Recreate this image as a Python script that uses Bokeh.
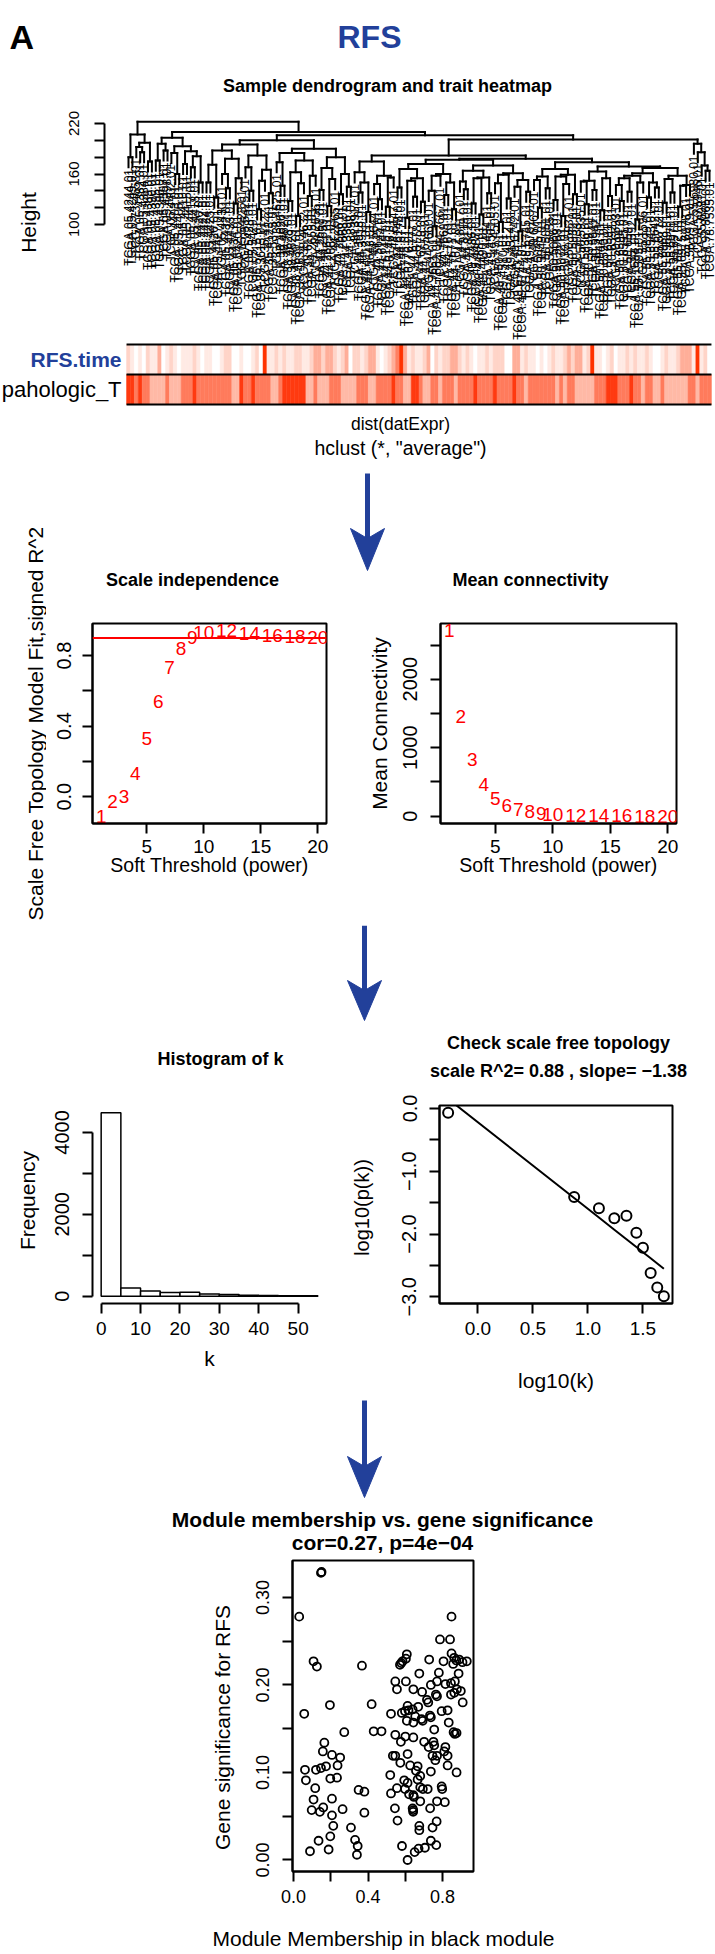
import math
from bokeh.plotting import figure
from bokeh.layouts import column, row
from bokeh.models import Range1d, FixedTicker, PrintfTickFormatter, Span
from bokeh.core.properties import value
from bokeh.embed import file_html
from bokeh.resources import INLINE

FONT = "Liberation Sans"
BLUE = "#22409a"
RED = "#ff0000"

# ---------------- data ----------------
sample_codes = """
05.4244 05.4249 73.4658 05.4382 05.4384 05.4389 05.4390 05.4395 05.4396 05.4397
05.4398 05.4402 05.4403 05.4405 05.4410 05.4415 05.4417 05.4418 05.4420 05.4422
05.4424 05.4425 05.4426 05.4427 05.4430 05.4432 05.4433 05.4434 05.5420 05.5423
05.5425 05.5428 05.5429 05.5715 35.3615 35.4122 35.4123 35.5375 38.4625 38.4626
38.4627 38.4628 38.4629 38.4630 38.4631 38.4632 38.6178 44.2655 44.2656 44.2657
44.2659 44.2661 44.2662 44.2665 44.2666 44.2668 44.3396 44.3398 44.3917 44.3918
44.3919 44.4112 44.5643 44.5644 44.5645 44.6144 44.6145 44.6146 44.6147 44.6148
44.6774 44.6775 44.6776 44.6777 44.6778 44.6779 44.7659 44.7660 44.7661 44.7662
44.7667 44.7669 44.7670 44.7671 44.7672 44.8117 44.8119 44.8120 49.4486 49.4487
49.4488 49.4490 49.4494 49.4501 49.4505 49.4507 49.4510 49.4512 49.4514 49.6742
49.6743 49.6744 49.6745 49.6761 49.6767 50.5045 50.5049 50.5051 50.5055 50.5066
50.5068 50.5072 50.5930 50.5931 50.5932 50.5933 50.5935 50.5936 50.5939 50.5941
50.5942 50.5944 50.6590 50.6591 50.6592 50.6593 50.6594 50.6595 50.6597 55.1592
55.1594 55.1595 55.1596 55.5899 55.6543 55.6642 55.6712 55.6968 55.6969 55.6970
55.6971 55.6972 55.6975 55.6978 55.6979 55.6980 50.5946 55.6981 92.8065 78.7535
""".split()
sample_ids = ["TCGA." + c + ".01" for c in sample_codes]

# height at which neighbouring leaves (i, i+1) join in the dendrogram
merge_heights = [
    180, 207, 192, 186, 197, 175,
    222,
    176, 196, 188, 203, 185, 160, 193, 172, 187, 168, 181, 150,
    210,
    150, 171, 132, 188, 160, 143, 178, 125, 155, 195,
    168, 140, 182, 118, 152, 165, 137, 200, 174, 146,
    185, 128, 162, 110, 149, 176, 134, 158, 190, 141,
    167, 122, 154, 180, 136, 160, 145,
    206,
    162, 138, 150, 115, 175, 148, 130, 158, 121, 156,
    182, 144, 166, 108, 152, 133, 155, 127, 172, 140,
    98, 158, 160, 135, 150, 118, 177, 151, 142, 164,
    125, 155, 112, 156, 137, 170, 149, 103, 159, 131,
    161, 145, 92, 153, 139, 178, 153, 120, 157, 143,
    166, 129, 157, 110, 148, 159, 136, 174, 151, 124,
    152, 141, 163, 117, 155, 134, 169, 147, 128, 155,
    139, 158, 106, 150, 161, 132, 150, 144, 167, 126,
    154, 138, 158, 121, 146, 147,
    201,
    196, 186, 170, 164,
]

rfs_time_level = [
    2, 1, 0, 1, 0, 2, 1, 1, 3, 0,
    1, 2, 1, 0, 1, 1, 1, 2, 1, 0,
    1, 1, 0, 0, 1, 2, 2, 0, 0, 1,
    0, 0, 1, 2, 0, 5, 1, 1, 2, 1,
    2, 1, 1, 2, 2, 1, 1, 2, 3, 3,
    2, 3, 3, 2, 1, 2, 3, 0, 2, 2,
    1, 2, 3, 3, 1, 0, 1, 2, 3, 4,
    5, 3, 1, 2, 1, 1, 2, 3, 0, 2,
    1, 2, 2, 3, 3, 2, 1, 2, 1, 0,
    1, 1, 2, 1, 2, 2, 2, 0, 0, 3,
    3, 1, 2, 1, 1, 0, 1, 0, 1, 2,
    1, 1, 2, 3, 2, 3, 3, 1, 2, 5,
    1, 1, 0, 1, 2, 0, 1, 1, 2, 1,
    2, 1, 1, 2, 1, 0, 0, 1, 2, 1,
    1, 2, 3, 3, 3, 1, 5, 1, 2, 0,
]
path_t_level = [
    3, 3, 2, 3, 2, 2, 1, 1, 1, 1,
    2, 1, 1, 1, 2, 2, 2, 3, 2, 2,
    2, 2, 2, 2, 2, 2, 2, 1, 1, 3,
    2, 2, 3, 2, 2, 2, 2, 1, 1, 2,
    3, 3, 3, 3, 3, 3, 1, 1, 2, 1,
    1, 1, 2, 2, 2, 1, 1, 1, 1, 2,
    2, 2, 1, 1, 2, 2, 2, 2, 3, 2,
    2, 1, 1, 3, 3, 2, 1, 1, 2, 2,
    1, 2, 2, 2, 1, 2, 2, 2, 2, 3,
    2, 2, 2, 2, 3, 2, 2, 2, 2, 3,
    2, 2, 1, 2, 2, 2, 2, 2, 2, 2,
    1, 2, 1, 2, 2, 1, 1, 1, 1, 1,
    2, 2, 2, 3, 3, 3, 2, 2, 2, 3,
    2, 2, 1, 2, 2, 1, 1, 2, 1, 1,
    1, 1, 1, 1, 2, 2, 1, 2, 2, 2,
]
rfs_palette = ["#ffffff", "#ffeae4", "#ffd4c8", "#ffae99", "#ff8062", "#ff3300"]
t_palette = ["#ffffff", "#ffb9a6", "#ff7b5c", "#ff3a10"]

powers = [1, 2, 3, 4, 5, 6, 7, 8, 9, 10, 12, 14, 16, 18, 20]
sft_signed_r2 = [-0.11, -0.03, 0.0, 0.13, 0.33, 0.54, 0.73, 0.84, 0.90, 0.93,
                 0.94, 0.925, 0.915, 0.91, 0.90]
mean_connectivity = [2706, 1456, 824, 456, 265, 162, 100, 62, 40, 26, 13, 7, 4, 2, 1]
r2_cutoff = 0.90

k_breaks = [0, 5, 10, 15, 20, 25, 30, 35, 40, 45, 50, 55]
k_counts = [4480, 200, 128, 88, 98, 55, 38, 22, 16, 12, 9]

log10_k = [-0.27, 0.875, 1.10, 1.24, 1.35, 1.44, 1.50, 1.57, 1.63, 1.69]
log10_pk = [-0.07, -1.41, -1.59, -1.75, -1.71, -1.98, -2.22, -2.62, -2.85, -2.99]
fit_intercept = -0.22
fit_slope = -1.38
fit_r2 = 0.88

mm_black = [
    0.147, 0.150, 0.030, 0.848, 0.786, 0.840, 0.107, 0.125, 0.367, 0.608,
    0.603, 0.585, 0.571, 0.578, 0.728, 0.805, 0.848, 0.862, 0.857, 0.889,
    0.907, 0.930, 0.874, 0.886, 0.780, 0.675, 0.546, 0.555, 0.603, 0.643,
    0.690, 0.737, 0.770, 0.815, 0.845, 0.866, 0.877, 0.898, 0.845, 0.863,
    0.764, 0.770, 0.716, 0.723, 0.908, 0.057, 0.195, 0.419, 0.523, 0.581,
    0.598, 0.612, 0.617, 0.639, 0.669, 0.653, 0.608, 0.643, 0.687, 0.693,
    0.732, 0.737, 0.795, 0.827, 0.833, 0.859, 0.866, 0.875, 0.755, 0.272,
    0.430, 0.472, 0.546, 0.600, 0.643, 0.576, 0.701, 0.725, 0.751, 0.755,
    0.815, 0.165, 0.157, 0.206, 0.250, 0.533, 0.546, 0.612, 0.746, 0.761,
    0.770, 0.809, 0.827, 0.573, 0.626, 0.666, 0.657, 0.827, 0.236, 0.061,
    0.120, 0.147, 0.174, 0.737, 0.875, 0.519, 0.680, 0.066, 0.197, 0.233,
    0.594, 0.612, 0.666, 0.116, 0.555, 0.598, 0.680, 0.694, 0.720, 0.795,
    0.798, 0.349, 0.380, 0.523, 0.620, 0.643, 0.646, 0.680, 0.770, 0.812,
    0.107, 0.206, 0.544, 0.639, 0.642, 0.642, 0.733, 0.097, 0.141, 0.159,
    0.263, 0.380, 0.206, 0.558, 0.768, 0.746, 0.213, 0.308, 0.675, 0.675,
    0.197, 0.330, 0.344, 0.134, 0.737, 0.582, 0.766, 0.088, 0.188, 0.340,
    0.671, 0.705, 0.650, 0.612,
]
gs_rfs = [
    0.328, 0.329, 0.278, 0.278, 0.252, 0.252, 0.227, 0.221, 0.222, 0.235,
    0.230, 0.227, 0.223, 0.225, 0.229, 0.227, 0.236, 0.231, 0.224, 0.229,
    0.226, 0.227, 0.228, 0.213, 0.214, 0.213, 0.204, 0.195, 0.204, 0.195,
    0.192, 0.200, 0.204, 0.201, 0.202, 0.204, 0.195, 0.193, 0.189, 0.191,
    0.189, 0.187, 0.183, 0.180, 0.180, 0.167, 0.177, 0.178, 0.167, 0.168,
    0.170, 0.176, 0.171, 0.172, 0.175, 0.164, 0.159, 0.157, 0.161, 0.159,
    0.165, 0.163, 0.170, 0.171, 0.157, 0.146, 0.144, 0.145, 0.149, 0.146,
    0.147, 0.147, 0.143, 0.141, 0.140, 0.135, 0.135, 0.129, 0.135, 0.131,
    0.129, 0.134, 0.124, 0.120, 0.117, 0.119, 0.119, 0.121, 0.119, 0.114,
    0.119, 0.124, 0.119, 0.111, 0.108, 0.107, 0.102, 0.108, 0.108, 0.103,
    0.103, 0.105, 0.107, 0.101, 0.100, 0.097, 0.096, 0.091, 0.093, 0.094,
    0.091, 0.088, 0.092, 0.082, 0.082, 0.081, 0.083, 0.081, 0.081, 0.084,
    0.081, 0.080, 0.078, 0.076, 0.075, 0.074, 0.072, 0.067, 0.067, 0.066,
    0.069, 0.070, 0.059, 0.059, 0.057, 0.055, 0.059, 0.057, 0.055, 0.060,
    0.058, 0.054, 0.051, 0.045, 0.044, 0.037, 0.039, 0.037, 0.039, 0.034,
    0.027, 0.023, 0.016, 0.022, 0.022, 0.016, 0.017, 0.010, 0.012, 0.006,
    0.013, 0.014, 0.009, 0.000,
]
mm_cor = "0.27"
mm_p = "4e\u221204"

# ---------------- helpers ----------------
def rlim(vals):
    lo, hi = min(vals), max(vals)
    pad = 0.04 * (hi - lo)
    return lo - pad, hi + pad


def base(width, height, xr, yr, left=0, right=0, top=0, bottom=0, axes=False, **extra):
    kw = dict(width=width, height=height, x_range=xr, y_range=yr,
              toolbar_location=None, output_backend="svg",
              min_border_left=left, min_border_right=right,
              min_border_top=top, min_border_bottom=bottom)
    if not axes:
        kw.update(x_axis_type=None, y_axis_type=None)
    kw.update(extra)
    p = figure(**kw)
    p.outline_line_color = None
    p.background_fill_color = "white"
    p.border_fill_color = "white"
    for g in p.grid:
        g.visible = False
    return p


def spacer(x0, x1, y_top, y_bot):
    return base(x1 - x0, y_bot - y_top, Range1d(x0, x1), Range1d(-y_bot, -y_top))


def put(p, x, y, s, size, bold=False, color="black", align="center",
        baseline="alphabetic", angle=0.0):
    p.text(x=[x], y=[-y], text=[s], text_font=value(FONT),
           text_font_size=f"{size}px", text_font_style="bold" if bold else "normal",
           text_color=color, text_align=align, text_baseline=baseline, angle=angle)


def ylabel_fig(x0, x1, y_top, y_bot, x, y, s, size=21):
    # wrapped in its own column so that its frame is not aligned with sibling plots
    p = spacer(x0, x1, y_top, y_bot)
    put(p, x, y, s, size, baseline="middle", angle=math.pi / 2)
    return column(p)


def arrow(p, x, y_top, y_wing, y_notch, y_tip, half=17, shaft=5):
    p.quad(left=[x - shaft / 2], right=[x + shaft / 2], top=[-y_top], bottom=[-(y_notch + 3)],
           fill_color=BLUE, line_color=None)
    p.patch(x=[x - half, x, x + half, x], y=[-y_wing, -y_notch, -y_wing, -y_tip],
            fill_color=BLUE, line_color=BLUE, line_width=1)


def style_axis(ax, ticks, minor=(), fmt=None, overrides=None, bounds=None, label=None,
               label_size=21, tick_size=20, standoff=13, label_standoff=6, vertical=False):
    ax.ticker = FixedTicker(ticks=list(ticks), minor_ticks=list(minor))
    if fmt:
        ax.formatter = PrintfTickFormatter(format=fmt)
    if overrides:
        ax.major_label_overrides = overrides
    if bounds:
        ax.bounds = bounds
    if label:
        ax.axis_label = label
    ax.axis_label_text_font = FONT
    ax.axis_label_text_font_size = f"{label_size}px"
    ax.axis_label_text_font_style = "normal"
    ax.axis_label_text_color = "black"
    ax.axis_label_standoff = label_standoff
    ax.major_label_text_font = FONT
    ax.major_label_text_font_size = f"{tick_size}px"
    ax.major_label_text_color = "black"
    ax.major_label_standoff = standoff
    ax.major_tick_in = 0
    ax.major_tick_out = 10
    ax.minor_tick_in = 0
    ax.minor_tick_out = 10
    ax.axis_line_width = 2
    ax.major_tick_line_width = 2
    ax.minor_tick_line_width = 2
    ax.axis_line_color = "black"
    ax.major_tick_line_color = "black"
    ax.minor_tick_line_color = "black"
    if vertical:
        ax.major_label_orientation = "parallel"


def panel(width, height, xr, yr, left, right, top, bottom, boxed=True):
    p = base(width, height, Range1d(*xr), Range1d(*yr), left, right, top, bottom, axes=True)
    if boxed:
        p.outline_line_color = "black"
        p.outline_line_width = 2
    return p


# ---------------- header ----------------
hdr = spacer(0, 715, 0, 105)
put(hdr, 9, 36, "A", 34, bold=True, align="left")
put(hdr, 369, 36, "RFS", 32, bold=True, color=BLUE)
put(hdr, 387, 85, "Sample dendrogram and trait heatmap", 18, bold=True)

# ---------------- dendrogram ----------------
N = len(sample_ids)
leaf_px = (709 - 128) / (N - 1)
hang = 12.0
segs = {"x0": [], "y0": [], "x1": [], "y1": []}
leaf_bottom = [0.0] * N


def seg(a, b, c, d):
    segs["x0"].append(a); segs["y0"].append(b); segs["x1"].append(c); segs["y1"].append(d)


def build(lo, hi):
    if lo == hi:
        return float(lo), None
    k = max(range(lo, hi), key=lambda j: merge_heights[j])
    h = merge_heights[k]
    xl, hl = build(lo, k)
    xr, hr = build(k + 1, hi)
    seg(xl, h, xr, h)
    for xc, hc, leaf in ((xl, hl, lo), (xr, hr, hi)):
        if hc is None:
            leaf_bottom[leaf] = h - hang
            seg(xc, h, xc, h - hang)
        else:
            seg(xc, h, xc, hc)
    return (xl + xr) / 2, h


build(0, N - 1)
x_end = (N - 1) + (715 - 709) / leaf_px

den = figure(width=655, height=236,
             x_range=Range1d(-(128 - 104) / leaf_px, x_end),
             y_range=Range1d(-39.0, 241.4), x_axis_type=None,
             toolbar_location=None, output_backend="svg",
             min_border_left=44, min_border_right=0, min_border_top=0, min_border_bottom=0)
den.outline_line_color = None
den.background_fill_color = "white"
den.border_fill_color = "white"
for g in den.grid:
    g.visible = False
den.segment(x0="x0", y0="y0", x1="x1", y1="y1", source=segs, line_color="black",
            line_width=2, line_cap="square")
den.text(x=list(range(N)), y=[b - 2 for b in leaf_bottom], text=sample_ids,
         text_font=value(FONT), text_font_size="12px", text_color="black",
         angle=math.pi / 2, text_align="right", text_baseline="middle")
style_axis(den.yaxis[0], [100, 160, 220], [120, 140, 180, 200], fmt="%d", bounds=(100, 220),
           tick_size=15, standoff=15, vertical=True)
den_band = row(ylabel_fig(0, 60, 105, 341, 28, 222, "Height"), den)

# ---------------- trait heatmap ----------------
heat = base(715, 69, Range1d(-128 / leaf_px, x_end), Range1d(-0.2, 2.1))
cols = list(range(N))
heat.quad(left=[i - 0.5 for i in cols], right=[i + 0.5 for i in cols], bottom=1, top=2,
          fill_color=[rfs_palette[v] for v in rfs_time_level],
          line_color=[rfs_palette[v] for v in rfs_time_level], line_width=0.5)
heat.quad(left=[i - 0.5 for i in cols], right=[i + 0.5 for i in cols], bottom=0, top=1,
          fill_color=[t_palette[v] for v in path_t_level],
          line_color=[t_palette[v] for v in path_t_level], line_width=0.5)
heat.segment(x0=[-0.5] * 3, x1=[N - 0.5] * 3, y0=[0, 1, 2], y1=[0, 1, 2],
             line_color="black", line_width=2)
lab_x = -0.5 - 5 / leaf_px
heat.text(x=[lab_x], y=[1.5], text=["RFS.time"], text_font=value(FONT), text_font_size="21px",
          text_font_style="bold", text_color=BLUE, text_align="right", text_baseline="middle")
heat.text(x=[lab_x], y=[0.5], text=["pahologic_T"], text_font=value(FONT), text_font_size="22px",
          text_color="black", text_align="right", text_baseline="middle")

# ---------------- band with soft-threshold panels ----------------
mid1 = spacer(46, 715, 410, 603)
put(mid1, 400, 423, "dist(datExpr)", 17.5)
put(mid1, 400, 447, "hclust (*, \"average\")", 19.5)
arrow(mid1, 367, 473, 528, 538, 570)
put(mid1, 192, 579, "Scale independence", 18, bold=True)
put(mid1, 530, 579, "Mean connectivity", 18, bold=True)

sft = panel(309, 302, rlim(powers), rlim(sft_signed_r2), 46, 29, 20, 82)
sft.add_layout(Span(location=r2_cutoff, dimension="width", line_color=RED, line_width=2))
sft.text(x=powers, y=sft_signed_r2, text=[str(v) for v in powers], text_font=value(FONT),
         text_font_size="19px", text_color=RED, text_align="center", text_baseline="middle")
style_axis(sft.yaxis[0], [0, 0.4, 0.8], [0.2, 0.6], fmt="%.1f", vertical=True, standoff=11)
style_axis(sft.xaxis[0], [5, 10, 15, 20], fmt="%d", label="Soft Threshold (power)",
           label_size=19.5, tick_size=19, standoff=6, label_standoff=-2)

mc = panel(322, 302, rlim(powers), rlim(mean_connectivity), 47, 39, 20, 82)
mc.text(x=powers, y=mean_connectivity, text=[str(v) for v in powers], text_font=value(FONT),
        text_font_size="19px", text_color=RED, text_align="center", text_baseline="middle")
style_axis(mc.yaxis[0], [0, 1000, 2000], [500, 1500, 2500], fmt="%d", vertical=True)
style_axis(mc.xaxis[0], [5, 10, 15, 20], fmt="%d", label="Soft Threshold (power)",
           label_size=19.5, tick_size=19, standoff=6, label_standoff=-2)

panels2 = row(sft, ylabel_fig(355, 393, 603, 905, 379, 723, "Mean Connectivity"), mc)
band2 = row(ylabel_fig(0, 46, 410, 925, 35, 723, "Scale Free Topology Model Fit,signed R^2"),
            column(row(mid1), panels2, row(spacer(46, 715, 905, 925))))

# ---------------- band with histogram / scale-free check ----------------
mid2 = spacer(0, 715, 925, 1090)
arrow(mid2, 364, 925, 980, 990, 1020)
put(mid2, 220, 1058, "Histogram of k", 18, bold=True)
put(mid2, 558, 1042, "Check scale free topology", 18, bold=True)
put(mid2, 558, 1070, f"scale R^2= {fit_r2:.2f} , slope= \u2212{abs(fit_slope):.2f}", 18,
    bold=True)

hist = panel(294, 308, rlim(k_breaks), rlim([0] + k_counts), 46, 14, 15, 95, boxed=False)
hist.quad(left=k_breaks[:-1], right=k_breaks[1:], bottom=0, top=k_counts,
          fill_color="white", line_color="black", line_width=1.5)
style_axis(hist.yaxis[0], [0, 2000, 4000], [1000, 3000], fmt="%d", bounds=(0, 4000),
           vertical=True)
style_axis(hist.xaxis[0], [0, 10, 20, 30, 40, 50], fmt="%d", bounds=(0, 50), label="k",
           tick_size=19, standoff=8, label_standoff=9)

chk = panel(333, 308, rlim(log10_k), rlim(log10_pk), 57, 43, 15, 95)
chk.line(x=log10_k, y=[fit_intercept + fit_slope * v for v in log10_k], line_color="black",
         line_width=2)
chk.scatter(x=log10_k, y=log10_pk, marker="circle", size=10, fill_color=None,
            line_color="black", line_width=2)
style_axis(chk.yaxis[0], [-3, -2, -1, 0], [-2.5, -1.5, -0.5], vertical=True,
           overrides={0: "0.0", -1: "\u22121.0", -2: "\u22122.0", -3: "\u22123.0"})
style_axis(chk.xaxis[0], [0, 0.5, 1.0, 1.5], fmt="%.1f", label="log10(k)", label_standoff=31,
           tick_size=19, standoff=8)

band3 = row(ylabel_fig(0, 46, 1090, 1398, 27, 1200, "Frequency"), hist,
            ylabel_fig(340, 382, 1090, 1398, 361, 1207, "log10(p(k))", size=20), chk)

# ---------------- band with module membership ----------------
mid3 = spacer(0, 715, 1398, 1558)
arrow(mid3, 364, 1400, 1456, 1466, 1497)
put(mid3, 382, 1519, "Module membership vs. gene significance", 21, bold=True)
put(mid3, 382, 1542, f"cor={mm_cor}, p={mm_p}", 21, bold=True)

scat = panel(468, 354, rlim(mm_black), rlim(gs_rfs), 45, 242, 2, 41)
scat.scatter(x=mm_black, y=gs_rfs, marker="circle", size=8, fill_color=None,
             line_color="black", line_width=1.8)
style_axis(scat.yaxis[0], [0, 0.1, 0.2, 0.3], [0.05, 0.15, 0.25], fmt="%.2f", vertical=True,
           tick_size=18)
style_axis(scat.xaxis[0], [0, 0.4, 0.8], [0.2, 0.6], fmt="%.1f", tick_size=18, standoff=8)
xlab4 = spacer(0, 715, 1912, 1954)
put(xlab4, 383, 1938, "Module Membership in black module", 21, baseline="middle")
band4 = column(row(ylabel_fig(0, 247, 1558, 1912, 222, 1727, "Gene significance for RFS"), scat),
               row(xlab4))

page = column(row(hdr), den_band, row(heat), band2, row(mid2), band3, row(mid3), band4)
open("out.html", "w").write(file_html(page, INLINE))
